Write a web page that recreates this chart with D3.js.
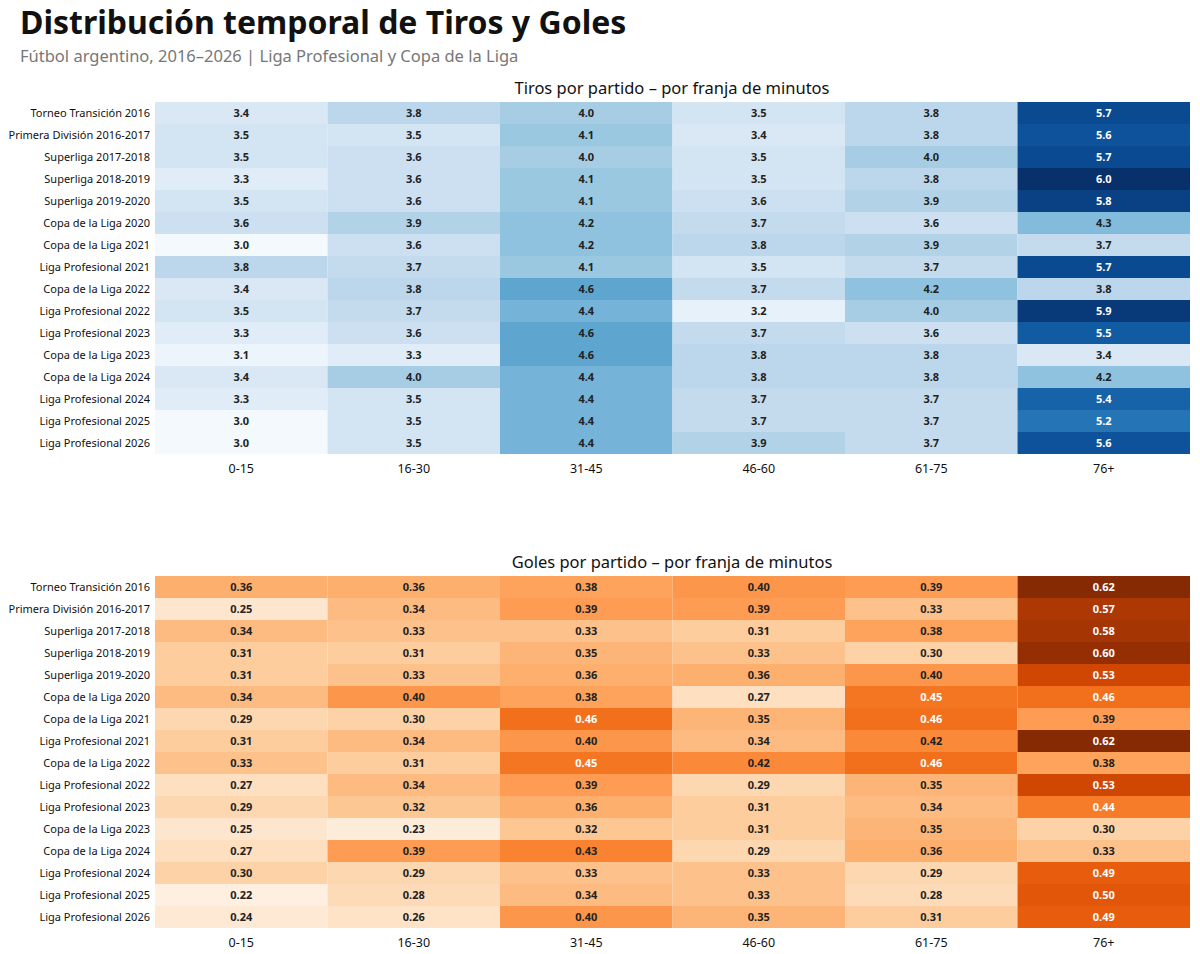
<!DOCTYPE html>
<html><head><meta charset="utf-8">
<script src="https://cdn.jsdelivr.net/npm/d3@7"></script>
<style>body{margin:0;background:#fff;font-family:"Noto Sans",Lato,sans-serif}</style>
</head><body><svg id="main" width="1200" height="954"></svg>
<script>
var torneos = ["Torneo Transición 2016","Primera División 2016-2017","Superliga 2017-2018","Superliga 2018-2019","Superliga 2019-2020","Copa de la Liga 2020","Copa de la Liga 2021","Liga Profesional 2021","Copa de la Liga 2022","Liga Profesional 2022","Liga Profesional 2023","Copa de la Liga 2023","Copa de la Liga 2024","Liga Profesional 2024","Liga Profesional 2025","Liga Profesional 2026"];
var franjas = ["0-15","16-30","31-45","46-60","61-75","76+"];
var tiros = [
 [3.4,3.8,4.0,3.5,3.8,5.7],[3.5,3.5,4.1,3.4,3.8,5.6],[3.5,3.6,4.0,3.5,4.0,5.7],[3.3,3.6,4.1,3.5,3.8,6.0],
 [3.5,3.6,4.1,3.6,3.9,5.8],[3.6,3.9,4.2,3.7,3.6,4.3],[3.0,3.6,4.2,3.8,3.9,3.7],[3.8,3.7,4.1,3.5,3.7,5.7],
 [3.4,3.8,4.6,3.7,4.2,3.8],[3.5,3.7,4.4,3.2,4.0,5.9],[3.3,3.6,4.6,3.7,3.6,5.5],[3.1,3.3,4.6,3.8,3.8,3.4],
 [3.4,4.0,4.4,3.8,3.8,4.2],[3.3,3.5,4.4,3.7,3.7,5.4],[3.0,3.5,4.4,3.7,3.7,5.2],[3.0,3.5,4.4,3.9,3.7,5.6]];
var goles = [
 [.36,.36,.38,.40,.39,.62],[.25,.34,.39,.39,.33,.57],[.34,.33,.33,.31,.38,.58],[.31,.31,.35,.33,.30,.60],
 [.31,.33,.36,.36,.40,.53],[.34,.40,.38,.27,.45,.46],[.29,.30,.46,.35,.46,.39],[.31,.34,.40,.34,.42,.62],
 [.33,.31,.45,.42,.46,.38],[.27,.34,.39,.29,.35,.53],[.29,.32,.36,.31,.34,.44],[.25,.23,.32,.31,.35,.30],
 [.27,.39,.43,.29,.36,.33],[.30,.29,.33,.33,.29,.49],[.22,.28,.34,.33,.28,.50],[.24,.26,.40,.35,.31,.49]];

var svg = d3.select('#main');
svg.append('text').attr('x',20).attr('y',34).attr('font-size',32).attr('font-weight',700).attr('fill','#111')
  .text('Distribución temporal de Tiros y Goles');
svg.append('text').attr('x',20).attr('y',62).attr('font-size',16.5).attr('fill','#777')
  .text('Fútbol argentino, 2016–2026  |  Liga Profesional y Copa de la Liga');

// draw one heatmap panel
function heatmap(top, title, data, interp, domain, fmt, whiteAt) {
  var g = svg.append('g');
  var x = d3.scaleBand().domain(franjas).range([155, 1190]);
  var y = d3.scaleBand().domain(torneos).range([top, top + 352]);
  var color = d3.scaleSequential(interp).domain(domain);
  g.append('text').attr('x', 672).attr('y', top - 8).attr('text-anchor','middle')
    .attr('font-size',16.5).attr('fill','#111').text(title);
  var cells = [];
  data.forEach(function(row, i) { row.forEach(function(v, j) { cells.push({t: torneos[i], f: franjas[j], v: v}); }); });
  g.selectAll('rect').data(cells).join('rect')
    .attr('x', function(d){return x(d.f);}).attr('y', function(d){return y(d.t);})
    .attr('width', x.bandwidth()).attr('height', y.bandwidth())
    .attr('fill', function(d){return color(d.v);});
  g.selectAll('text.v').data(cells).join('text').attr('class','v')
    .attr('x', function(d){return x(d.f) + x.bandwidth()/2;})
    .attr('y', function(d){return y(d.t) + y.bandwidth()/2;})
    .attr('dy','0.35em').attr('text-anchor','middle').attr('font-size',11).attr('font-weight',700)
    .attr('fill', function(d){return d.v >= whiteAt ? '#fff' : '#222';})
    .text(function(d){return fmt(d.v);});
  var ya = g.append('g').attr('transform','translate(155,0)')
    .call(d3.axisLeft(y).tickSize(0).tickPadding(5));
  ya.select('.domain').remove();
  ya.selectAll('text').attr('font-size',11).attr('fill','#111').style('font-family','"Noto Sans",Lato,sans-serif');
  var xa = g.append('g').attr('transform','translate(0,' + (top + 352) + ')')
    .call(d3.axisBottom(x).tickSize(0).tickPadding(10));
  xa.select('.domain').remove();
  xa.selectAll('text').attr('font-size',12.5).attr('fill','#111').style('font-family','"Noto Sans",Lato,sans-serif');
}

heatmap(102, 'Tiros por partido – por franja de minutos', tiros, d3.interpolateBlues, [2.95, 6.0], d3.format('.1f'), 5.0);
heatmap(576, 'Goles por partido – por franja de minutos', goles, d3.interpolateOranges, [0.2, 0.63], d3.format('.2f'), 0.435);
</script></body></html>
